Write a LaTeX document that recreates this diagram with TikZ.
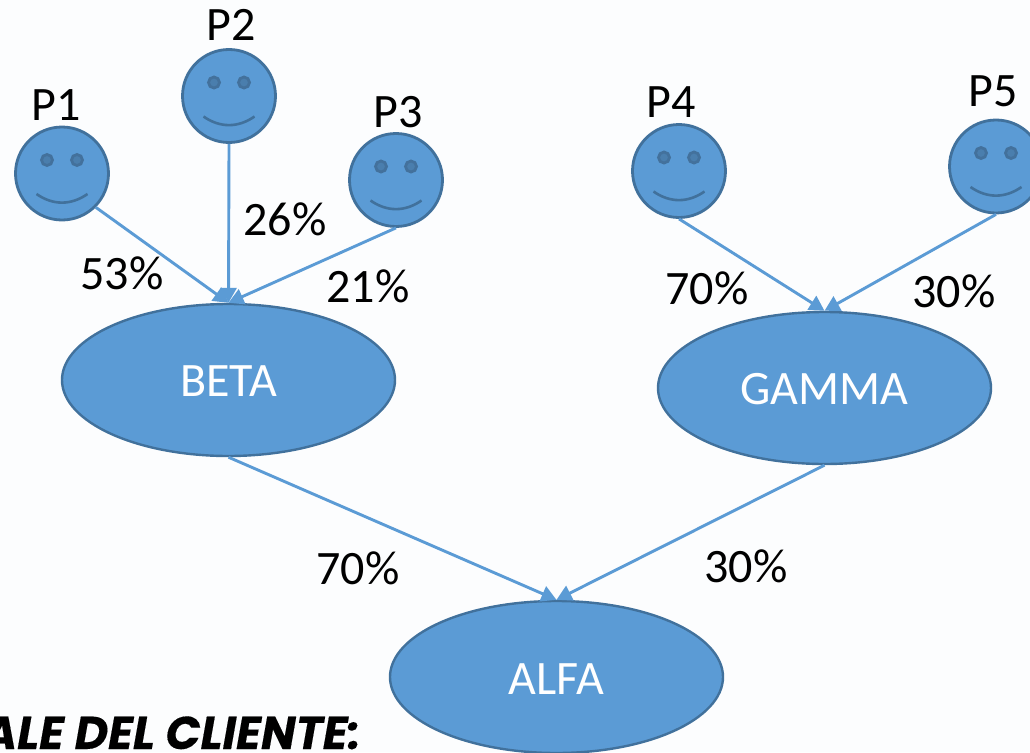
\documentclass[tikz,border=0pt]{standalone}
\usepackage{fontspec}
\setmainfont{Carlito}
\newfontfamily\poppinsfont[BoldItalicFeatures={FakeBold=0.25}]{Poppins}
\usetikzlibrary{arrows.meta,shapes.geometric}
\definecolor{fillblue}{HTML}{5B9BD5}
\definecolor{edgeblue}{HTML}{41719C}
\definecolor{eyeblue}{HTML}{4A7EAD}
\definecolor{paper}{HTML}{FCFDFE}
\newcommand{\lowered}[2]{\raisebox{-#1}[\height][\depth]{#2}}
\tikzset{
  x=1pt,y=-1pt,
  lbl/.style={font=\fontsize{48}{48}\selectfont,text=black,inner sep=0pt},
  groupnode/.style={ellipse,draw=edgeblue,line width=2.4pt,fill=fillblue,
    minimum width=333pt,minimum height=152pt,inner sep=0pt,text=white,
    font=\fontsize{48}{48}\selectfont},
  face/.style={circle,draw=edgeblue,line width=2.8pt,fill=fillblue,minimum size=93pt,inner sep=0pt,
    path picture={
      \coordinate (fc) at (path picture bounding box.center);
      \fill[eyeblue,draw=eyeblue!90!black] ([xshift=-15pt,yshift=13.5pt]fc) circle[radius=5.5pt];
      \fill[eyeblue,draw=eyeblue!90!black] ([xshift=15pt,yshift=13.5pt]fc) circle[radius=5.5pt];
      \draw[edgeblue,line width=2.6pt] ([xshift=-25.5pt,yshift=-20.5pt]fc)
        .. controls ([xshift=-9pt,yshift=-32pt]fc) and ([xshift=9pt,yshift=-32pt]fc) ..
        ([xshift=25.5pt,yshift=-20.5pt]fc);
    }},
  link/.style={draw=fillblue,line width=2.9pt,
    -{Triangle[length=15pt,width=16pt,fill=fillblue]}}
}
\begin{document}
\begin{tikzpicture}
\useasboundingbox (0,0) rectangle (1030,752);
\fill[paper] (0,0) rectangle (1030,752);

\node[groupnode] (beta) at (228.5,380) {\lowered{1pt}{BETA}};
\node[groupnode] (gamma) at (824.5,388) {\lowered{1pt}{GAMMA}};
\node[groupnode] (alfa) at (556.5,677) {\lowered{2pt}{ALFA}};

\node[face] (p1) at (62,173.5) {};
\node[face] (p2) at (229,96) {};
\node[face] (p3) at (396,180) {};
\node[face] (p4) at (679,171) {};
\node[face] (p5) at (996,166.5) {};

\node[lbl] (lp1) at (56,105.5) {P1};
\node[lbl] (lp2) at (231,24.5) {P2};
\node[lbl] (lp3) at (398,112) {P3};
\node[lbl] (lp4) at (671,102) {P4};
\node[lbl] (lp5) at (993,91) {P5};

\draw[link] (p1.south east) -- (beta.north);
\draw[link] (p2.south) -- (beta.north);
\draw[link] (p3.south) -- (beta.north);
\draw[link] (p4.south) -- (gamma.north);
\draw[link] (p5.south) -- (gamma.north);
\draw[link] (beta.south) -- (alfa.north);
\draw[link] (gamma.south) -- (alfa.north);

\node[lbl] (l53) at (122,273.5) {53\%};
\node[lbl] (l26) at (285,219.5) {26\%};
\node[lbl] (l21) at (368,286.5) {21\%};
\node[lbl] (l70a) at (707,288.5) {70\%};
\node[lbl] (l30a) at (954,291.5) {30\%};
\node[lbl] (l70b) at (358,568) {70\%};
\node[lbl] (l30b) at (746,566.5) {30\%};

\node[anchor=base east,inner sep=0pt,text=black,font=\poppinsfont\bfseries\itshape\fontsize{46}{46}\selectfont] (cap) at (361,749) {ALE DEL CLIENTE:};
\end{tikzpicture}
\end{document}
